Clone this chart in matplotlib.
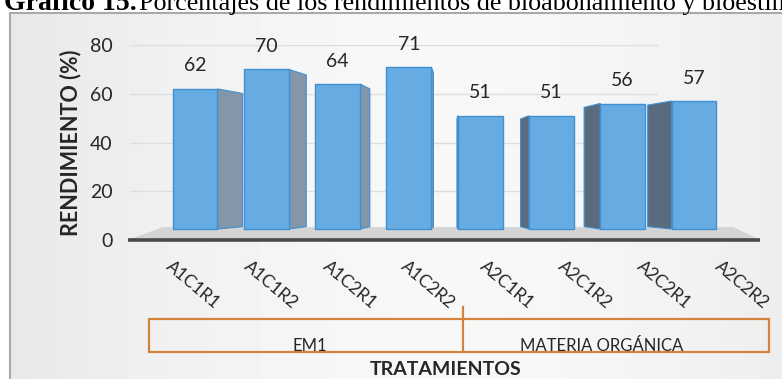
import matplotlib
matplotlib.use('Agg')
import matplotlib.pyplot as plt
import numpy as np
from matplotlib.patches import Polygon, Rectangle
from matplotlib.lines import Line2D

# datos del gráfico
TRATAMIENTOS = ['A1C1R1', 'A1C1R2', 'A1C2R1', 'A1C2R2',
                'A2C1R1', 'A2C1R2', 'A2C2R1', 'A2C2R2']
RENDIMIENTO = [62, 70, 64, 71, 51, 51, 56, 57]
GRUPOS = ['EM1', 'MATERIA ORGÁNICA']
Y_TICKS = [0, 20, 40, 60, 80]

COLORS = {
    'front': '#66ace2',
    'edge': '#3f8fd2',
    'side_r': '#8496aa',
    'side_l': '#5a6b7e',
    'floor': '#d4d4d4',
    'base': '#4a4a4a',
    'grid': '#dedede',
    'text': '#262626',
    'frame': '#a9a9a9',
    'orange': '#d4843a',
}

W, H = 782, 379
FONT = ['Lato', 'DejaVu Sans']

# perspectiva simple de las barras
VP_X, K_X = 3.59, 0.108
VP_Y, K_Y = 24.0, 0.95
FLOOR = 4.5
BAR_W = 0.63


def px(x, y):
    """Pixeles de la imagen -> fraccion de figura"""
    return x / W, 1 - y / H


def back(x, y):
    return x + K_X * (VP_X - x), VP_Y + K_Y * (y - VP_Y)


fig = plt.figure(figsize=(W / 100, H / 100), dpi=100)
fig.patch.set_facecolor('white')

# marco con fondo gris degradado
bg = fig.add_axes([10 / W, 0, 1, 1 - 13 / H], zorder=0)
grad = np.linspace(0, 1, 256)
shade = 0.91 + 0.06 * np.sin(np.pi * grad * 0.9)
bg.imshow(np.tile(shade, (2, 1)), cmap='gray', vmin=0, vmax=1,
          aspect='auto', extent=[0, 1, 0, 1])
bg.set_xlim(0, 1)
bg.set_ylim(0, 1)
for s in ['top', 'left']:
    bg.spines[s].set_color(COLORS['frame'])
    bg.spines[s].set_linewidth(1.5)
for s in ['right', 'bottom']:
    bg.spines[s].set_visible(False)
bg.set_xticks([])
bg.set_yticks([])

# ejes principales
x0, y_top = px(128, 45)
x1, y_bot = px(760, 240)
ax = fig.add_axes([x0, y_bot, x1 - x0, y_top - y_bot], zorder=2)
ax.patch.set_alpha(0)
scale = (694 - 195) / 7
ax.set_xlim(-(195 - 128) / scale, (760 - 195) / scale)
ax.set_ylim(0, 80)
for s in ax.spines.values():
    s.set_visible(False)

x = np.arange(len(TRATAMIENTOS))
vals = np.array(RENDIMIENTO)

# lineas de fondo
for t in Y_TICKS[1:]:
    ax.plot([-0.91, 6.48], [t, t], color=COLORS['grid'], lw=1, zorder=0)

# piso
floor = Polygon([(ax.get_xlim()[0], 0), (ax.get_xlim()[1], 0),
                 (7.55, 5.3), (-0.45, 5.3)],
                closed=True, facecolor=COLORS['floor'], edgecolor='none',
                zorder=1, clip_on=False)
ax.add_patch(floor)
ax.plot(ax.get_xlim(), [0, 0], color=COLORS['base'], lw=2.6,
        zorder=1.5, clip_on=False, solid_capstyle='butt')

bars = ax.bar(x, vals - FLOOR, bottom=FLOOR, width=BAR_W,
              color=COLORS['front'], edgecolor=COLORS['edge'],
              linewidth=1, zorder=4)

# caras laterales
for bar in bars:
    left = bar.get_x()
    right = left + bar.get_width()
    y0 = bar.get_y()
    y1 = y0 + bar.get_height()
    if right < VP_X:
        xe, color = right, COLORS['side_r']
    else:
        xe, color = left, COLORS['side_l']
    bx0, by0 = back(xe, y0)
    bx1, by1 = back(xe, y1)
    side = Polygon([(xe, y0), (xe, y1), (bx1, by1), (bx0, by0)],
                   closed=True, facecolor=color, edgecolor=COLORS['edge'],
                   linewidth=0.8, zorder=3)
    ax.add_patch(side)

# etiquetas de valores
for xi, v in zip(x, vals):
    ax.annotate(f'{v}', (xi, v), xytext=(0, 16.5), textcoords='offset points',
                ha='center', va='center', fontsize=14, family=FONT,
                color=COLORS['text'], zorder=5)

ax.set_yticks(Y_TICKS)
ax.set_yticklabels([str(t) for t in Y_TICKS], fontsize=14, family=FONT,
                   color=COLORS['text'])
ax.tick_params(axis='y', length=0, pad=11)
ax.set_xticks([])

# etiquetas de tratamientos (separadas por la perspectiva)
for i, name in enumerate(TRATAMIENTOS):
    ax.text(i * 1.1 - 0.03, -18.5, name, rotation=-40, ha='center',
            va='center', rotation_mode='anchor', fontsize=12.5, family=FONT,
            color=COLORS['text'], clip_on=False)

ax.set_ylabel('RENDIMIENTO (%)', fontsize=15.5, fontweight='bold',
              family=FONT, color=COLORS['text'], labelpad=6)

# cuadro de grupos
ov = fig.add_axes([0, 0, 1, 1], zorder=3)
ov.set_xlim(0, W)
ov.set_ylim(H, 0)
ov.axis('off')
ov.add_patch(Rectangle((149, 319), 620, 33, fill=False,
                       edgecolor=COLORS['orange'], lw=1.6))
ov.add_line(Line2D([463, 463], [307, 352], color=COLORS['orange'], lw=1.6))
ov.text(310, 351, GRUPOS[0], ha='center', va='baseline', fontsize=12,
        family=FONT, color=COLORS['text'])
ov.text(602, 351, GRUPOS[1], ha='center', va='baseline', fontsize=12,
        family=FONT, color=COLORS['text'])
ov.text(446, 375, 'TRATAMIENTOS', ha='center', va='baseline', fontsize=14,
        fontweight='bold', family=FONT, color=COLORS['text'])

# titulo (recortado arriba)
ov.text(4, 10, 'Gráfico 15.', ha='left', va='baseline', fontsize=20,
        fontweight='bold', family='Liberation Serif', color='black')
ov.text(139, 10, 'Porcentajes de los rendimientos de bioabonamiento y '
        'bioestimulación', ha='left', va='baseline', fontsize=18.8,
        family='Liberation Serif', color='black')

fig.savefig('out.png', dpi=100)
